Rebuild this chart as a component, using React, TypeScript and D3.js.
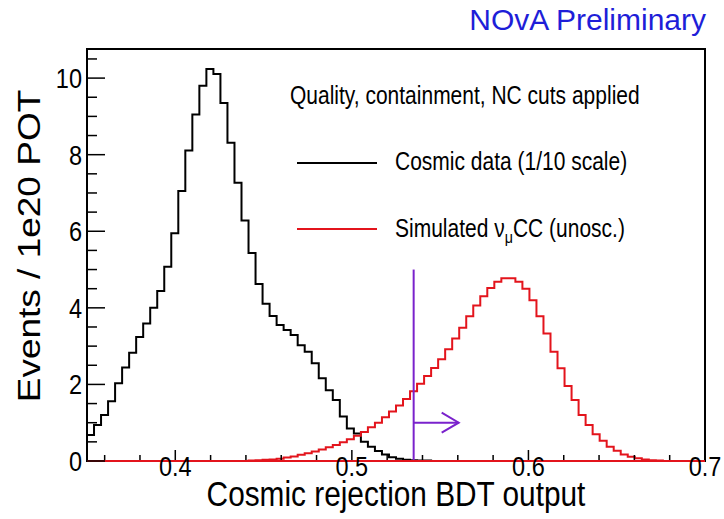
import React from 'react';
import * as d3 from 'd3';

const xMin = 0.35;
const xMax = 0.7;
const yMax = 10.76;
const nBins = 88;

// Cosmic data (1/10 scale), events / 1e20 POT per bin
const cosmicData = [
  0.68, 0.94, 1.2, 1.56, 2.03, 2.44, 2.83, 3.24, 3.59, 4.0,
  4.44, 5.07, 5.95, 7.05, 8.11, 9.05, 9.8, 10.24, 10.11, 9.35,
  8.31, 7.27, 6.28, 5.43, 4.62, 4.11, 3.79, 3.55, 3.42, 3.29,
  3.02, 2.85, 2.55, 2.16, 1.85, 1.59, 1.16, 0.85, 0.72, 0.5,
  0.37, 0.26, 0.17, 0.1, 0.06, 0.03, 0.02, 0.01, 0.01, 0,
  0, 0, 0, 0, 0, 0, 0, 0, 0, 0,
  0, 0, 0, 0, 0, 0, 0, 0, 0, 0,
  0, 0, 0, 0, 0, 0, 0, 0, 0, 0,
  0, 0, 0, 0, 0, 0, 0, 0,
];

// Simulated numu CC (unoscillated)
const numuCC = [
  0, 0, 0, 0, 0, 0, 0, 0, 0, 0,
  0, 0, 0, 0, 0, 0, 0, 0, 0, 0,
  0, 0, 0, 0.01, 0.02, 0.03, 0.04, 0.06, 0.09, 0.12,
  0.16, 0.2, 0.25, 0.3, 0.36, 0.42, 0.49, 0.57, 0.66, 0.76,
  0.88, 1.0, 1.14, 1.29, 1.45, 1.62, 1.82, 2.02, 2.22, 2.43,
  2.66, 2.92, 3.2, 3.48, 3.78, 4.06, 4.3, 4.52, 4.68, 4.77,
  4.77, 4.68, 4.5, 4.2, 3.78, 3.33, 2.85, 2.42, 1.96, 1.59,
  1.2, 0.94, 0.7, 0.53, 0.37, 0.27, 0.17, 0.11, 0.07, 0.04,
  0.02, 0.01, 0, 0, 0, 0, 0, 0,
];

const xMajorTicks = [0.4, 0.5, 0.6, 0.7];
const xTickLabels = ['0.4', '0.5', '0.6', '0.7'];
const yMajorTicks = [0, 2, 4, 6, 8, 10];
const yTickLabels = ['0', '2', '4', '6', '8', '10'];

const cutValue = 0.535;
const cutTop = 5;
const arrowEnd = 0.5605;
const arrowY = 1;

const FONT = '"Liberation Sans", Arial, Helvetica, sans-serif';
const SQ = 0.84;

export default function App() {
  const W = 724;
  const H = 519;
  const left = 87;
  const right = 705;
  const top = 49;
  const bottom = 461;

  const x = d3.scaleLinear().domain([xMin, xMax]).range([left, right]);
  const y = d3.scaleLinear().domain([0, yMax]).range([bottom, top]);
  const binW = (xMax - xMin) / nBins;

  const stepPath = (vals: number[]) => {
    const pts: [number, number][] = [[xMin, 0]];
    vals.forEach((v, i) => pts.push([xMin + i * binW, v]));
    pts.push([xMax, vals[vals.length - 1]]);
    pts.push([xMax, 0]);
    return d3
      .line<[number, number]>()
      .x((d) => x(d[0]))
      .y((d) => y(d[1]))
      .curve(d3.curveStepAfter)(pts) as string;
  };

  const xMinor = d3.range(18, 36).map((i) => i * 0.02).filter((v) => !xMajorTicks.some((m) => Math.abs(m - v) < 1e-6));
  const yMinor = d3.range(0, 22).map((i) => i * 0.5).filter((v) => v <= yMax && v % 2 !== 0);

  const ax = x(arrowEnd);
  const ay = y(arrowY);

  return (
    <svg width={W} height={H} style={{ position: 'absolute', left: 0, top: 0, background: '#fff' }} fontFamily={FONT}>
      <rect x={0} y={0} width={W} height={H} fill="#fff" />
      {/* histograms */}
      <path d={stepPath(cosmicData)} fill="none" stroke="#000" strokeWidth={2} />
      <path d={stepPath(numuCC)} fill="none" stroke="#e3141c" strokeWidth={2} />

      {/* cut line and arrow */}
      <line x1={x(cutValue)} x2={x(cutValue)} y1={y(0)} y2={y(cutTop)} stroke="#7a22cc" strokeWidth={2} />
      <line x1={x(cutValue)} x2={ax} y1={ay} y2={ay} stroke="#7a22cc" strokeWidth={2} />
      <polyline points={`${ax - 17},${ay - 10} ${ax},${ay} ${ax - 17},${ay + 10}`} fill="none" stroke="#7a22cc" strokeWidth={2} />

      {/* frame */}
      <rect x={left} y={top} width={right - left} height={bottom - top} fill="none" stroke="#000" strokeWidth={2} />

      {/* x ticks */}
      {xMajorTicks.map((t) => (
        <line key={'xM' + t} x1={x(t)} x2={x(t)} y1={bottom} y2={bottom - 11} stroke="#000" strokeWidth={1.5} />
      ))}
      {xMinor.map((t) => (
        <line key={'xm' + t} x1={x(t)} x2={x(t)} y1={bottom} y2={bottom - 6} stroke="#000" strokeWidth={1.5} />
      ))}
      {/* red baseline on top of axis */}
      <line x1={left} x2={right} y1={y(0)} y2={y(0)} stroke="#e3141c" strokeWidth={2} />
      {xMajorTicks.map((t, i) => (
        <text key={'xl' + t} transform={`translate(${x(t)},${476}) scale(${SQ},1)`} textAnchor="middle" fontSize={28} fill="#000">
          {xTickLabels[i]}
        </text>
      ))}

      {/* y ticks */}
      {yMajorTicks.map((t) => (
        <line key={'yM' + t} x1={left} x2={left + 18} y1={y(t)} y2={y(t)} stroke="#000" strokeWidth={1.5} />
      ))}
      {yMinor.map((t) => (
        <line key={'ym' + t} x1={left} x2={left + 10} y1={y(t)} y2={y(t)} stroke="#000" strokeWidth={1.5} />
      ))}
      {yMajorTicks.map((t, i) => (
        <text key={'yl' + t} transform={`translate(${82},${y(t) + 10}) scale(${SQ},1)`} textAnchor="end" fontSize={28} fill="#000">
          {yTickLabels[i]}
        </text>
      ))}

      {/* axis titles */}
      <text transform={`translate(${(left + right) / 2},${506}) scale(${SQ},1)`} textAnchor="middle" fontSize={35.5} fill="#000">
        Cosmic rejection BDT output
      </text>
      <text transform={`translate(${40},${246}) scale(${SQ},1) rotate(-90)`} textAnchor="middle" fontSize={37} fill="#000">
        Events / 1e20 POT
      </text>

      {/* header */}
      <text x={706} y={30} textAnchor="end" fontSize={30} fill="#1e1ed8">
        NOvA Preliminary
      </text>

      {/* legend */}
      <text transform={`translate(${290},${104}) scale(${SQ},1)`} fontSize={25} fill="#000">
        Quality, containment, NC cuts applied
      </text>
      <line x1={297} x2={377} y1={163} y2={163} stroke="#000" strokeWidth={2} />
      <text transform={`translate(${395},${170}) scale(${SQ},1)`} fontSize={25} fill="#000">
        Cosmic data (1/10 scale)
      </text>
      <line x1={297} x2={377} y1={229} y2={229} stroke="#e3141c" strokeWidth={2} />
      <text transform={`translate(${395},${237}) scale(${SQ},1)`} fontSize={25} fill="#000">
        <tspan>Simulated </tspan>
        <tspan>ν</tspan>
        <tspan fontSize={17} dy={6}>μ</tspan>
        <tspan dy={-6}>CC (unosc.)</tspan>
      </text>
    </svg>
  );
}
